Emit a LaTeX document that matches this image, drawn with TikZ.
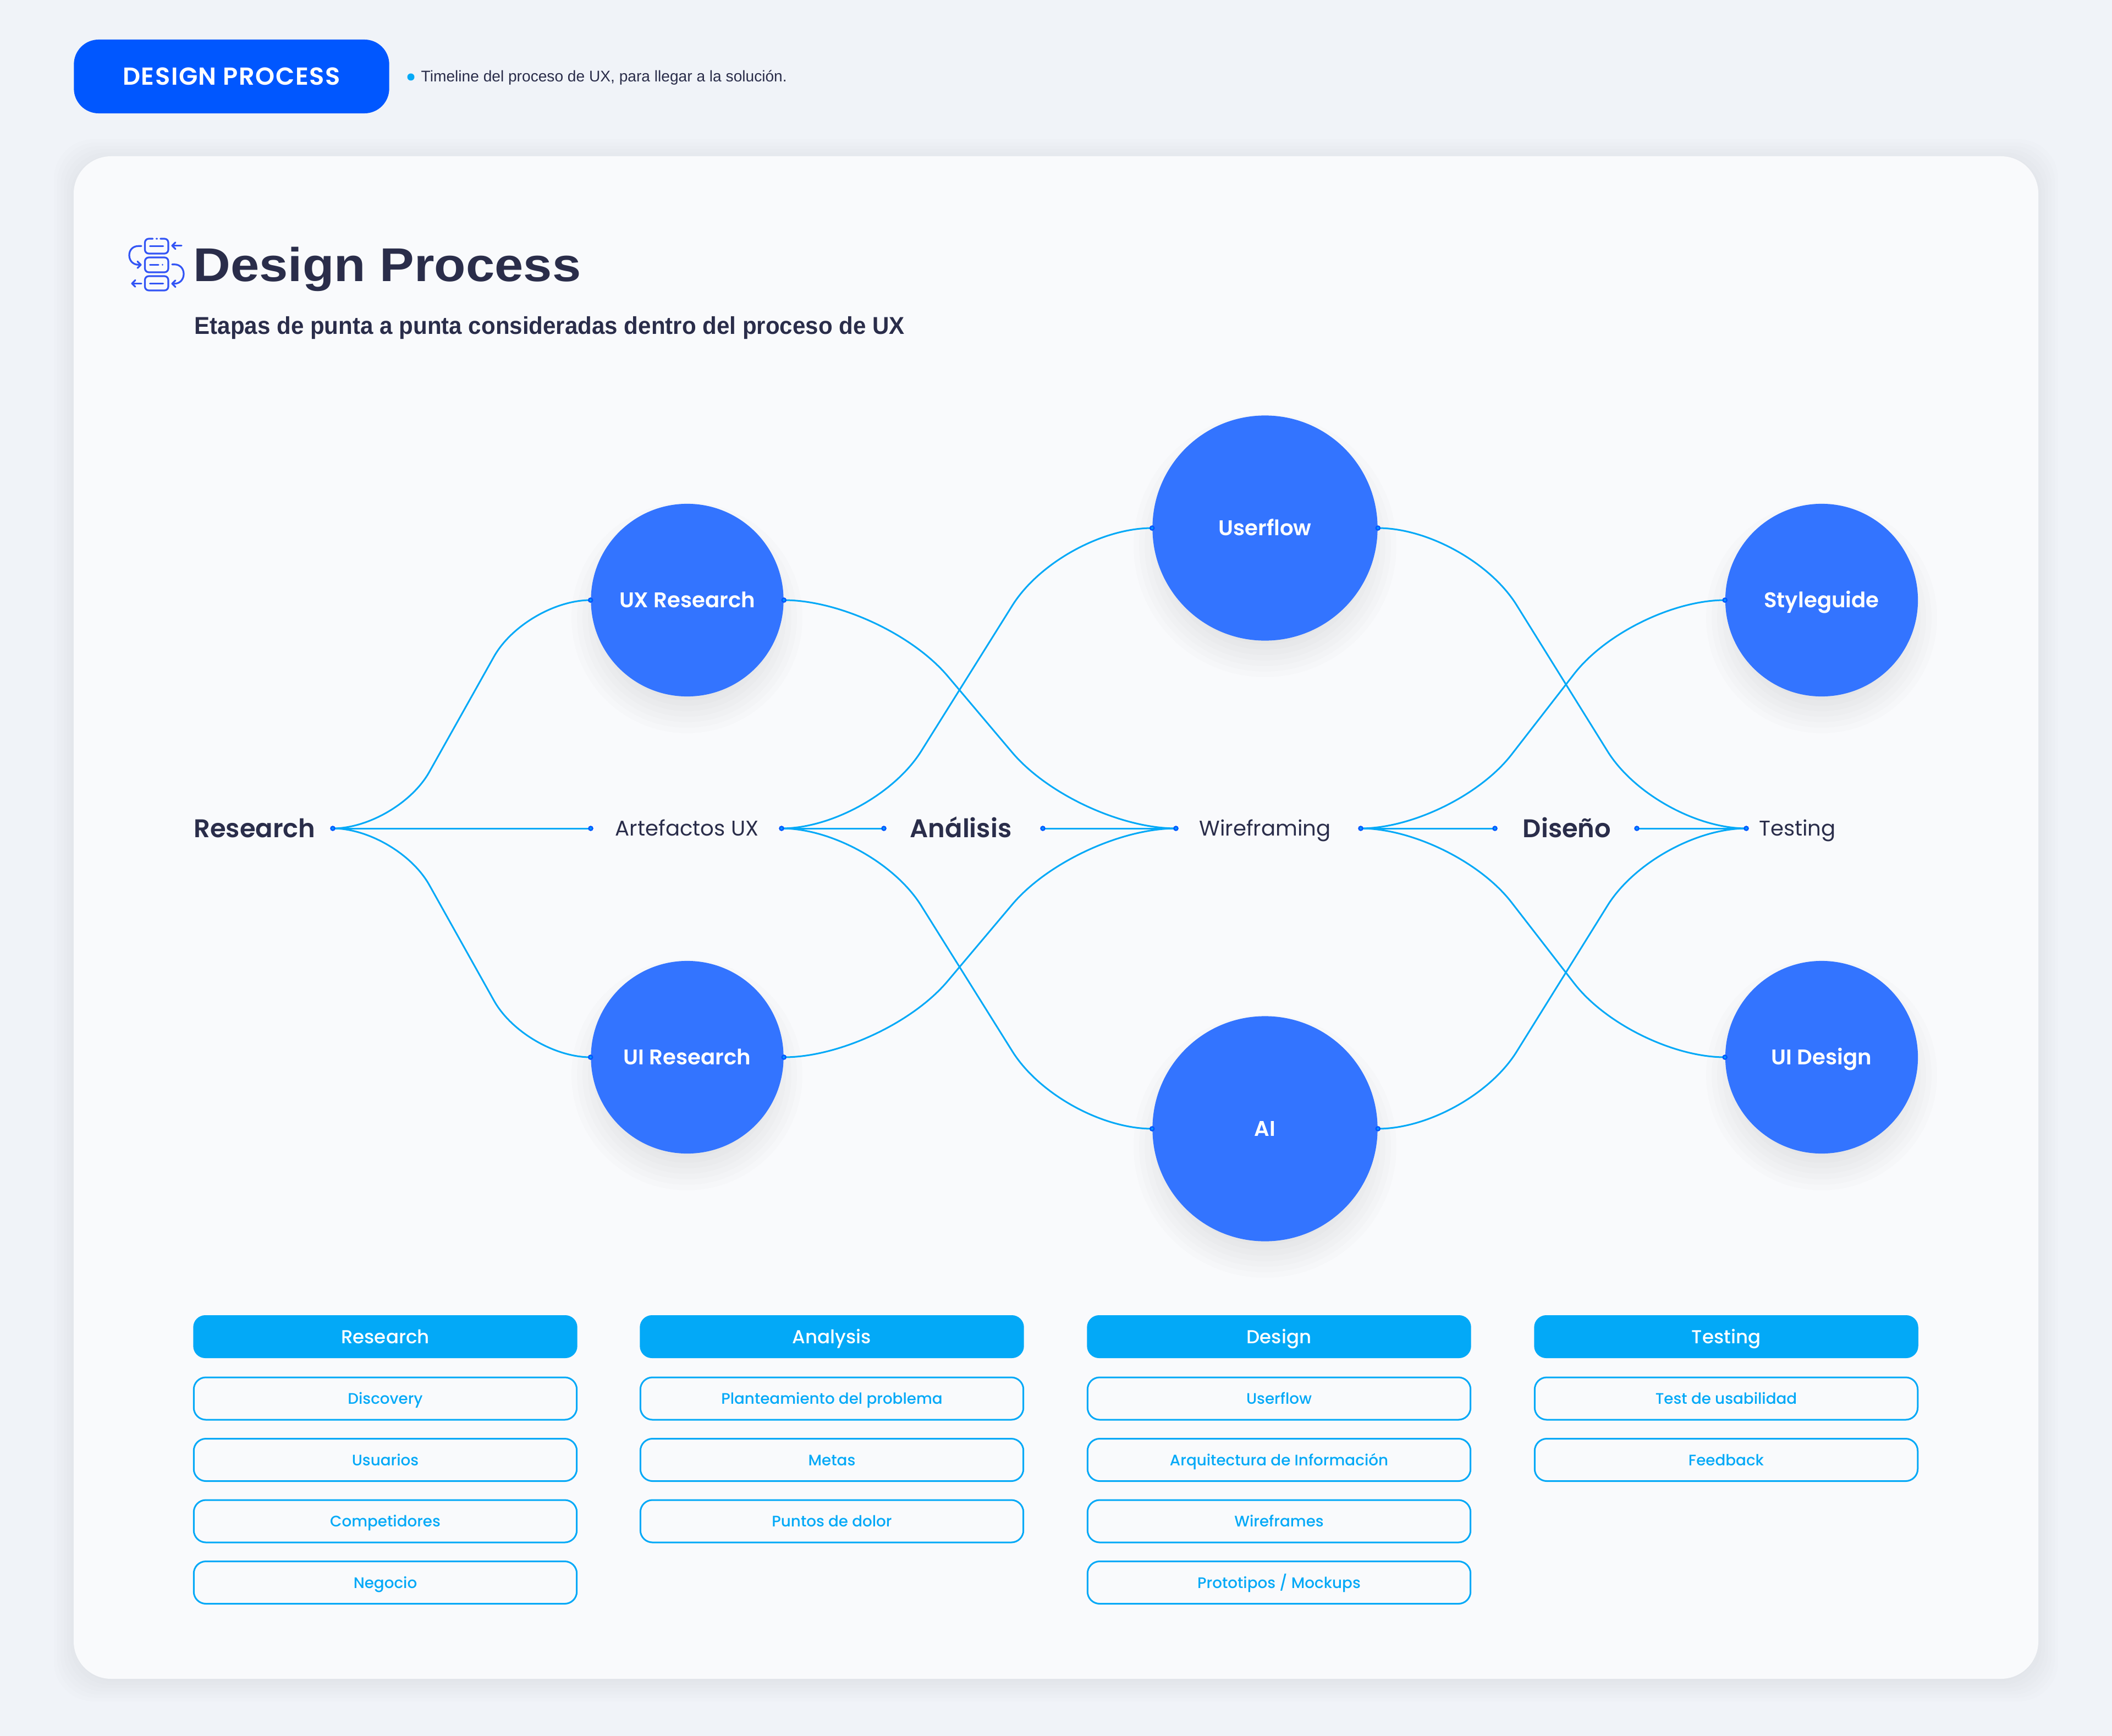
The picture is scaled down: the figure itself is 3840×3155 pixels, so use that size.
\documentclass[tikz,border=0pt]{standalone}
\usepackage{fontspec}
\setmainfont{Poppins}
\newfontfamily\popmed{Poppins Medium}
\newfontfamily\popsemi{Poppins SemiBold}
\newfontfamily\popspaced[LetterSpace=3.5]{Poppins SemiBold}
\newfontfamily\notesans{Liberation Sans}
\newfontfamily\titlesans[FakeStretch=1.09]{Liberation Sans}
\newfontfamily\subsans[FakeStretch=0.95]{Liberation Sans}
\usetikzlibrary{calc}
\definecolor{pagebg}{HTML}{F0F3F8}
\definecolor{cardbg}{HTML}{F9FAFC}
\definecolor{pillblue}{HTML}{0057FF}
\definecolor{ballblue}{HTML}{3374FF}
\definecolor{linecyan}{HTML}{03A9F7}
\definecolor{dotcore}{HTML}{00A0FF}
\definecolor{inkdark}{HTML}{2A2D4A}
\definecolor{iconblue}{HTML}{3355F5}
\tikzset{
  ball/.style={circle,fill=ballblue,text=white,inner sep=0pt,text height=0.32cm,text depth=0.05cm,font=\popsemi\fontsize{11}{14}\selectfont},
  stagelabel/.style={text=inkdark,inner sep=0pt,text height=0.37cm,text depth=0.05cm,font=\popsemi\fontsize{13.2}{16}\selectfont},
  arteflabel/.style={text=inkdark,inner sep=0pt,text height=0.32cm,text depth=0.05cm,font=\fontsize{11}{14}\selectfont},
  dotmark/.style={circle,fill=dotcore,draw=pillblue,line width=0.025cm,inner sep=0pt,minimum size=0.07cm},
  joinline/.style={linecyan,line width=0.03cm},
  headbox/.style={rounded corners=0.22cm,fill=linecyan,text=white,inner sep=0pt,minimum width=6.98cm,minimum height=0.78cm,text height=0.29cm,text depth=0.05cm,font=\popmed\fontsize{9.7}{12}\selectfont},
  itembox/.style={rounded corners=0.22cm,draw=linecyan,line width=0.03cm,text=linecyan,inner sep=0pt,minimum width=6.96cm,minimum height=0.77cm,text height=0.25cm,text depth=0.05cm,font=\popmed\fontsize{7.9}{11}\selectfont},
  iconline/.style={iconblue,line width=0.032cm,line cap=round,line join=round},
}
\newcommand{\sbend}[3]{\draw[joinline,rounded corners=#3*0.01cm] (#1) -- ($(#1)+(#3,0)$) -- ($(#2)-(#3,0)$) -- (#2);}
\begin{document}
\begin{tikzpicture}[x=0.01cm,y=-0.01cm]
\useasboundingbox (0,0) rectangle (3840,3155);
\fill[pagebg] (-5,-5) rectangle (3845,3160);
% card with its soft edge
\foreach \g in {0,6,...,36}
  \fill[black,opacity=0.006,rounded corners=0.72cm] (134-\g,284-\g+5) rectangle (3706+\g,3052+\g+5);
\fill[cardbg,rounded corners=0.68cm] (134,284) rectangle (3706,3052);
% header
\node[rounded corners=0.45cm,fill=pillblue,text=white,inner sep=0pt,minimum width=5.73cm,minimum height=1.34cm,text height=0.36cm,text depth=0.05cm,font=\popspaced\fontsize{12.7}{14}\selectfont] (pill) at (421,139) {DESIGN PROCESS};
\node[circle,fill=linecyan,inner sep=0pt,minimum size=0.13cm] (pilldot) at (747,140) {};
\node[anchor=base west,text=inkdark,inner sep=0pt,font=\notesans\fontsize{8}{11}\selectfont] (pillnote) at (765,149) {Timeline del proceso de UX, para llegar a la solución.};
% title
\node[anchor=base west,text=inkdark,inner sep=0pt,font=\titlesans\bfseries\fontsize{24.5}{30}\selectfont] (title) at (351,512) {Design Process};
\node[anchor=base west,text=inkdark,inner sep=0pt,font=\subsans\bfseries\fontsize{12.6}{15}\selectfont] (subtitle) at (353,607) {Etapas de punta a punta consideradas dentro del proceso de UX};
% icon
\draw[iconline,rounded corners=0.07cm] (277.7,434) -- (263.5,434) -- (263.5,461) -- (306,461) -- (306,434) -- (291.7,434);
\draw[iconline] (285,434) -- (285,434.01);
\draw[iconline] (272.7,447.7) -- (296.7,447.7);
\draw[iconline,rounded corners=0.07cm] (263.5,468) rectangle (306,495);
\draw[iconline] (272.7,481.3) -- (288,481.3);
\draw[iconline] (295.7,481.3) -- (295.7,481.31);
\draw[iconline,rounded corners=0.07cm] (263.5,502) rectangle (306,528);
\draw[iconline] (272.7,515.3) -- (296.7,515.3);
\draw[iconline] (330,446.7) -- (313,446.7);
\draw[iconline] (319,440.7) -- (313,446.7) -- (319,452.7);
\draw[iconline] (257,447.3) -- (252,447.3) .. controls (241,447.3) and (235,455) .. (235,464) .. controls (235,473) and (241,481.3) .. (252,481.3) -- (256,481.3);
\draw[iconline] (250,475.3) -- (256,481.3) -- (250,487.3);
\draw[iconline] (313,480.7) -- (317,480.7) .. controls (328,480.7) and (334,489) .. (334,498) .. controls (334,507) and (328,515.7) .. (317,515.7) -- (313,515.7);
\draw[iconline] (319,509.7) -- (313,515.7) -- (319,521.7);
\draw[iconline] (257,515.3) -- (240,515.3);
\draw[iconline] (246,509.3) -- (240,515.3) -- (246,521.3);
% soft shadows under the balls
\foreach \cx/\cy/\cr in {1249/1091/175,1249/1922/175,2300/960/204,2300/2052/204,3312/1091/175,3312/1922/175}
  \foreach \g in {-45,-35,...,35}
    \fill[black,opacity=0.012] (\cx,\cy+32) circle (\cr+\g);
% balls
\node[ball,minimum size=3.5cm] (uxres) at (1249.5,1091) {UX Research};
\node[ball,minimum size=3.5cm] (uires) at (1249.5,1922) {UI Research};
\node[ball,minimum size=4.09cm] (userflow) at (2300,960) {Userflow};
\node[ball,minimum size=4.09cm] (aibig) at (2300,2052) {AI};
\node[ball,minimum size=3.5cm] (styleg) at (3312,1091) {Styleguide};
\node[ball,minimum size=3.5cm] (uidesign) at (3312,1922) {UI Design};
% middle row
\node[stagelabel] (research) at (463,1506) {Research};
\node[arteflabel] (artef) at (1249,1506) {Artefactos UX};
\node[stagelabel] (analisis) at (1747,1506) {Análisis};
\node[arteflabel] (wirefr) at (2300,1506) {Wireframing};
\node[stagelabel] (diseno) at (2849,1506) {Diseño};
\node[arteflabel] (testing) at (3268,1506) {Testing};
\coordinate (researchout) at (605,1506);
\coordinate (artefin) at (1074,1506);
\coordinate (artefout) at (1421,1506);
\coordinate (analisisin) at (1607,1506);
\coordinate (analisisout) at (1896,1506);
\coordinate (wirefin) at (2138,1506);
\coordinate (wirefout) at (2474,1506);
\coordinate (disenoin) at (2718,1506);
\coordinate (disenoout) at (2976,1506);
\coordinate (testingin) at (3175,1506);
% connectors
\sbend{researchout}{uxres.west}{118}
\draw[joinline] (researchout) -- (artefin);
\sbend{researchout}{uires.west}{118}
\sbend{uxres.east}{wirefin}{181}
\sbend{uires.east}{wirefin}{181}
\sbend{artefout}{userflow.west}{166}
\draw[joinline] (artefout) -- (analisisin);
\sbend{artefout}{aibig.west}{166}
\draw[joinline] (analisisout) -- (wirefin);
\sbend{userflow.east}{testingin}{165}
\sbend{aibig.east}{testingin}{165}
\sbend{wirefout}{styleg.west}{170}
\draw[joinline] (wirefout) -- (disenoin);
\sbend{wirefout}{uidesign.west}{170}
\draw[joinline] (disenoout) -- (testingin);
% end dots
\foreach \p [count=\i] in {researchout,artefin,artefout,analisisin,analisisout,wirefin,wirefout,disenoin,disenoout,testingin,uxres.west,uxres.east,uires.west,uires.east,userflow.west,userflow.east,aibig.west,aibig.east,styleg.west,uidesign.west}
  \node[dotmark] (endpt\i) at (\p) {};
% lists below
\foreach \cx/\name/\items [count=\c] in {
  700.5/Research/{Discovery,Usuarios,Competidores,Negocio},
  1512.5/Analysis/{Planteamiento del problema,Metas,Puntos de dolor},
  2325.5/Design/{Userflow,Arquitectura de Información,Wireframes,Prototipos / Mockups},
  3138.5/Testing/{Test de usabilidad,Feedback}}{
  \node[headbox] (head\c) at (\cx,2430) {\name};
  \foreach \t [count=\k] in \items
    \node[itembox] (item\c-\k) at (\cx,2431+111.5*\k) {\t};
}
\end{tikzpicture}
\end{document}
